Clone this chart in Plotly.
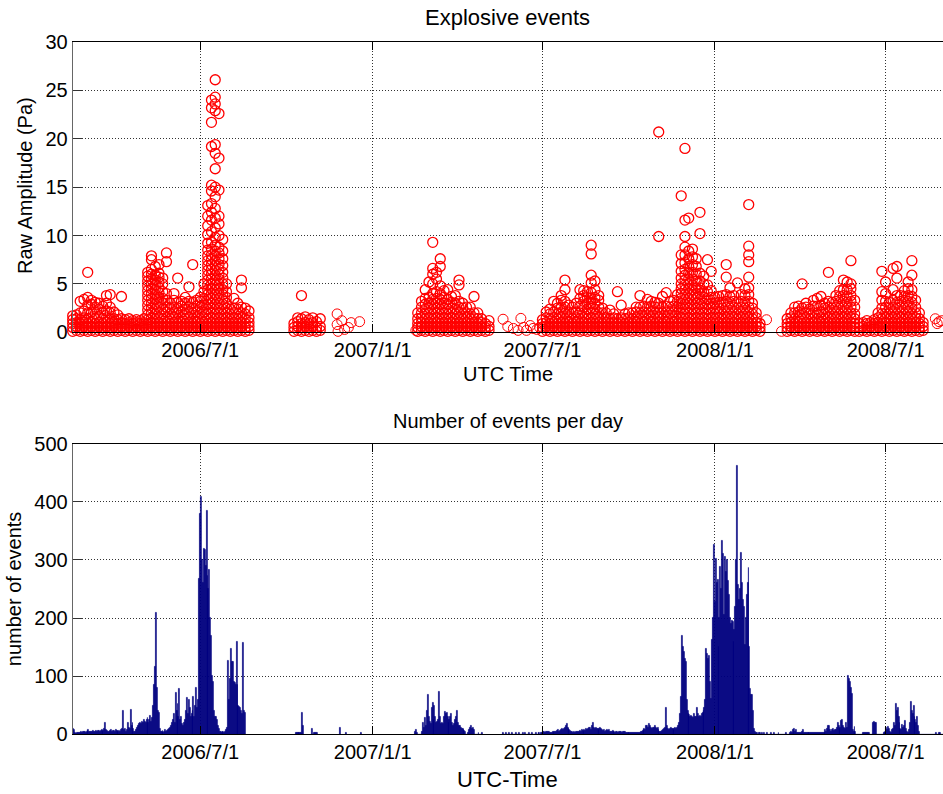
import pandas as pd
import plotly.graph_objects as go

# ---------------- data ----------------
TICK_DATES = ["2006-07-01", "2007-01-01", "2007-07-01", "2008-01-01", "2008-07-01"]
TICK_LABELS = ["2006/7/1", "2007/1/1", "2007/7/1", "2008/1/1", "2008/7/1"]

# Daily event counts (segments of consecutive days; days not listed have no events)
COUNT_SEGMENTS = [
    ("2006-02-15", [
        12, 10, 8, 2, 1, 2, 3, 2, 3, 4,
        3, 4, 5, 4, 3, 5, 6, 8, 5, 4,
        5, 4, 6, 5, 4, 6, 5, 7, 6, 5,
        6, 8, 5, 6, 10, 20, 8, 6, 5, 4,
        6, 8, 5, 7, 6, 5, 8, 6, 7, 5,
        6, 4, 8, 10, 40, 8, 10, 5, 8, 20,
        12, 10, 43, 15, 20, 10, 5, 4, 8, 12,
        15, 18, 20, 18, 22, 20, 25, 22, 20, 25,
        28, 20, 25, 32, 22, 28, 50, 85, 117, 209,
        80, 40, 38, 10, 5, 4, 6, 3, 5, 8,
        4, 6, 8, 10, 12, 15, 20, 25, 35, 20,
        72, 40, 53, 30, 79, 25, 30, 18, 15, 20,
        25, 40, 63, 35, 60, 45, 30, 35, 40, 65,
        30, 50, 81, 45, 60, 267, 380, 408, 300, 260,
        319, 318, 290, 385, 273, 250, 283, 200, 170, 100,
        90, 40, 30, 30, 25, 15, 10, 5, 4, 3,
        5, 4, 3, 5, 8, 12, 127, 60, 95, 147,
        125, 125, 90, 88, 85, 160, 85, 50, 47, 45,
        40, 35, 157, 40, 38]),
    ("2006-10-11", [3, 2, 3, 2, 3, 3, 2, 38, 15]),
    ("2006-10-28", [10, 0, 0, 3, 2, 3, 2]),
    ("2006-11-27", [12]),
    ("2006-12-04", [2]),
    ("2006-12-20", [2]),
    ("2007-02-15", [
        5, 8, 3, 0, 0, 0, 0, 0,
        5, 20, 12, 29, 15, 40, 69, 30, 22, 18,
        45, 55, 25, 50, 30, 20, 22, 25, 73, 30,
        18, 20, 18, 30, 39, 35, 38, 30, 20, 25,
        30, 35, 20, 15, 18, 25, 30, 41, 20, 15,
        15, 12, 10, 10, 8, 6, 5, 0, 0, 3,
        8, 12, 15, 10, 12, 8, 0, 0, 0, 0,
        3, 0, 0, 0, 2]),
    ("2007-05-20", [
        2, 0, 0, 2, 0, 0, 0, 2, 0, 0, 2, 0, 0, 0, 2, 0, 0, 2, 0, 0,
        0, 2, 0, 0, 2, 0, 0, 0, 2, 0, 0, 2, 0, 0, 0, 2, 0, 0, 2, 2]),
    ("2007-06-30", [
        2, 3, 5, 4, 3, 5, 5, 4, 5, 3,
        3, 3, 4, 3, 5, 5, 4, 6, 8, 5,
        6, 8, 10, 8, 10, 12, 15, 18, 12, 10,
        8, 6, 5, 4, 3, 4, 3, 5, 5, 4,
        5, 6, 4, 8, 6, 5, 8, 6, 10, 8,
        10, 12, 12, 8, 15, 20, 12, 10, 12, 10,
        10, 8, 10, 12, 10, 8, 6, 8, 5, 6,
        8, 6, 8, 5, 4, 5, 6, 5, 4, 3,
        5, 4, 3, 5, 5, 4, 3, 5, 5, 4,
        3, 3, 2, 3, 3, 2, 3, 3, 2, 3,
        3, 3, 2, 3, 3, 3, 5, 4, 6, 8,
        10, 8, 15, 14, 12, 18, 15, 12, 10, 12,
        12, 15, 12, 10, 12, 8, 5, 5, 5, 6,
        8, 10, 12, 46, 15, 10, 8, 10, 12, 10,
        10, 8, 10, 12, 10, 12, 15, 20, 36, 64,
        170, 150, 142, 130, 125, 60, 41, 35, 33, 30,
        32, 30, 28, 35, 30, 30, 46, 35, 30, 32,
        30, 35, 38, 40, 45, 60, 148, 138, 130, 135,
        90, 62, 162, 200, 327, 228, 303, 260, 266, 150,
        200, 288, 250, 333, 310, 205, 306, 280, 300, 265,
        240, 200, 190, 195, 193, 160, 180, 220, 300, 462,
        257, 232, 250, 313, 260, 232, 220, 155, 200, 240,
        260, 287, 150, 78, 68, 68, 40, 10, 5, 3,
        2, 0, 3, 2, 0, 3, 0, 0, 2, 0,
        0, 3, 0, 0, 0, 2, 0, 0, 3, 0,
        0, 0, 0, 2, 0, 0, 0, 0, 0, 0,
        0, 2, 0, 0, 0, 3, 5, 2, 8, 3,
        10, 4, 8, 3, 2, 3, 2, 3, 4, 8,
        3, 3, 3, 2, 3, 3, 3, 3, 2, 3,
        3, 3, 3, 3, 2, 3, 3, 3, 3, 3,
        3, 2, 3, 8, 5, 10, 14, 15, 8, 5,
        8, 10, 6, 8, 8, 12, 20, 15, 10, 12,
        24, 25, 15, 12, 10, 20, 12, 100, 95, 91,
        80, 70, 8, 5, 13, 5, 0, 0, 0, 0,
        0, 0, 0, 3, 3, 3, 2, 3, 3, 3,
        0, 0, 0, 0, 20, 21, 20, 20, 0, 0,
        0, 0, 0, 0, 0, 3, 5, 3, 12, 8,
        13, 10, 5, 3, 8, 10, 20, 15, 52, 40,
        45, 30, 20, 10, 8, 17, 12, 15, 23, 10,
        5, 3, 8, 20, 56, 40, 35, 50, 30, 25,
        20, 30, 15, 5, 0, 0, 0, 0, 0, 0,
        0, 0, 0, 0, 0, 0, 0, 0, 0, 0,
        0, 3, 0, 0, 3, 2, 0, 0, 0]),
]

# Event amplitudes (Pa), grouped in 4-day bins: (first day, bin length in days, amplitudes per bin)
AMPLITUDE_BINS = [
    ("2006-02-15", 4, [
        "0.1 0.5 0.9 1.3 1.7", "0.2 0.6 1.0 1.4 1.8", "0.1 0.5 0.9 1.3 2.0 3.2",
        "0.2 0.6 1.0 1.5 2.2 3.4", "0.1 0.5 0.9 1.4 2.0 2.8 3.6 6.2", "0.2 0.6 1.0 1.5 2.1 2.9 3.3",
        "0.1 0.5 0.9 1.4 1.9 2.6 3.1", "0.2 0.6 1.0 1.6 2.4 3.0", "0.1 0.5 0.9 1.4 2.0 2.7",
        "0.2 0.6 1.0 1.5 2.2 3.0 3.8", "0.1 0.5 0.9 1.4 2.0 2.6 3.9", "0.2 0.6 1.0 1.4 2.1",
        "0.1 0.5 0.9 1.3 1.8", "0.2 0.6 1.0 1.4 3.7", "0.1 0.5 0.9 1.3",
        "0.2 0.6 1.0 1.4", "0.1 0.5 0.9 1.2", "0.2 0.6 1.0 1.3",
        "0.1 0.5 0.9 1.2", "0.2 0.6 1.0 1.4",
        "0.1 0.5 0.9 1.3 1.8 2.3 2.8 3.3 3.8 4.3 4.8 5.3 5.8 6.2",
        "0.2 0.6 1.0 1.5 2.0 2.5 3.0 3.5 4.0 4.5 5.0 5.5 6.0 6.5 7.5 7.9",
        "0.1 0.5 0.9 1.4 1.9 2.4 2.9 3.4 3.9 4.4 4.9 5.4 5.9 6.8",
        "0.2 0.6 1.0 1.5 2.0 2.6 3.1 3.6 4.1 4.6 5.2 5.7 6.1 7.0",
        "0.1 0.5 0.9 1.4 1.9 2.4 3.0 3.5 4.2 5.0 5.6",
        "0.2 0.6 1.0 1.5 2.1 2.6 3.3 4.0 7.3 8.2",
        "0.1 0.5 0.9 1.4 1.9 2.5 3.0", "0.2 0.6 1.0 1.5 2.0 2.6 3.3 4.0",
        "0.1 0.5 0.9 1.4 2.0 2.5 3.1 5.6", "0.2 0.6 1.0 1.5 2.1 2.7 3.2",
        "0.1 0.5 0.9 1.4 1.9 2.4 3.0 3.6", "0.2 0.6 1.0 1.5 2.0 2.6 3.2 4.7",
        "0.1 0.5 0.9 1.4 2.0 2.5 3.1 7.0", "0.2 0.6 1.0 1.5 2.1 2.7 3.3",
        "0.1 0.5 0.9 1.4 2.0 2.6 3.2 3.6", "0.2 0.6 1.0 1.5 2.1 2.8 3.5 4.2 5.0",
        "0.1 0.5 0.9 1.4 1.9 2.4 2.9 3.4 3.9 4.4 4.9 5.4 5.9 6.4 6.9 7.4 7.9 8.5 9.2 10.1 11.0 12.0 13.1",
        "0.2 0.6 1.0 1.5 2.0 2.5 3.0 3.5 4.0 4.5 5.0 5.5 6.0 6.5 7.0 7.5 8.0 8.6 9.3 10.4 11.6 12.4 13.3 14.6 15.2 19.2 21.7 23.2 24.0",
        "0.1 0.5 0.9 1.4 1.9 2.4 2.9 3.4 3.9 4.4 4.9 5.4 5.9 6.4 6.9 7.4 7.9 8.4 9.0 9.8 10.8 11.8 12.8 14.0 15.0 16.9 18.5 19.4 22.9 23.6 24.3 26.1",
        "0.2 0.6 1.0 1.5 2.0 2.5 3.0 3.5 4.0 4.5 5.0 5.5 6.0 6.5 7.0 7.6 8.2 8.8 10.0 11.2 12.0 14.7 18.0 22.6",
        "0.1 0.5 0.9 1.4 1.9 2.4 2.9 3.4 3.9 4.4 5.0 5.6 6.2 6.9 7.6 8.4 9.6",
        "0.2 0.6 1.0 1.5 2.0 2.5 3.0 3.6 4.2 5.0",
        "0.1 0.5 0.9 1.4 1.9 2.4", "0.2 0.6 1.0 1.5 2.0 2.5 3.5",
        "0.1 0.5 0.9 1.4 1.9 2.4 3.0", "0.2 0.6 1.0 1.5 2.0 2.6 4.6 5.4",
        "0.1 0.5 0.9 1.4 1.9 2.5", "0.2 0.6 1.0 1.5 2.2"]),
    ("2006-10-09", 4, [
        "0.1 0.5 0.9", "0.2 0.6 1.1 1.5", "0.1 0.5 0.9 1.4 3.8", "0.2 0.6 1.0 1.6",
        "0.1 0.5 0.9 1.3", "0.2 0.6 1.0 1.5", "0.1 0.5 1.1", "0.2 0.6 1.4"]),
    ("2007-02-18", 4, [
        "0.1 0.5 0.9 1.4 2.0", "0.2 0.6 1.0 1.5 2.0 2.6 3.2",
        "0.1 0.5 0.9 1.4 1.9 2.4 2.9 3.5 4.4", "0.2 0.6 1.0 1.5 2.0 2.5 3.0 3.6 5.2",
        "0.1 0.5 0.9 1.4 1.9 2.4 2.9 3.4 4.0 5.0 6.0 6.6 9.3",
        "0.2 0.6 1.0 1.5 2.0 2.5 3.0 3.5 4.2 5.5 6.2",
        "0.1 0.5 0.9 1.4 1.9 2.4 2.9 3.4 4.0 4.8 6.8 7.6",
        "0.2 0.6 1.0 1.5 2.0 2.5 3.0 3.6 4.3", "0.1 0.5 0.9 1.4 1.9 2.4 2.9 3.4 4.4",
        "0.2 0.6 1.0 1.5 2.0 2.5 3.1 3.7", "0.1 0.5 0.9 1.4 1.9 2.4 3.0 3.8",
        "0.2 0.6 1.0 1.5 2.0 2.6 3.2 4.9 5.4", "0.1 0.5 0.9 1.4 1.9 2.5 3.0",
        "0.2 0.6 1.0 1.5 2.0 2.6", "0.1 0.5 0.9 1.4 1.9 2.6", "0.2 0.6 1.0 1.5 2.0 3.7",
        "0.1 0.5 0.9 1.4 2.0", "0.2 0.6 1.0 1.4", "0.1 0.5 0.9", "0.2 0.6 1.2"]),
    ("2007-07-01", 4, [
        "0.1 0.5 0.9 1.3", "0.2 0.6 1.0 1.5 2.1", "0.1 0.5 0.9 1.4 1.9 2.4",
        "0.2 0.6 1.0 1.5 2.1 3.2", "0.1 0.5 0.9 1.4 1.9 2.5 3.0", "0.2 0.6 1.0 1.5 2.0 2.6 3.3 3.8",
        "0.1 0.5 0.9 1.4 2.0 2.6 3.2 4.4 5.4", "0.2 0.6 1.0 1.5 2.1 2.8", "0.1 0.5 0.9 1.4 2.0 2.6",
        "0.2 0.6 1.0 1.5 2.1 3.0", "0.1 0.5 0.9 1.4 2.0 2.7 3.5 4.4",
        "0.2 0.6 1.0 1.5 2.0 2.6 3.2 3.8 4.3", "0.1 0.5 0.9 1.4 1.9 2.4 3.0 3.6 4.2",
        "0.2 0.6 1.0 1.5 2.0 2.5 3.0 3.5 4.1 5.1 5.9 8.1 9.0",
        "0.1 0.5 0.9 1.4 1.9 2.4 3.0 3.6 4.4 5.3", "0.2 0.6 1.0 1.5 2.0 2.6 3.3 3.8",
        "0.1 0.5 0.9 1.4 2.0 2.5", "0.2 0.6 1.0 1.5 2.0", "0.1 0.5 0.9 1.4 2.3",
        "0.2 0.6 1.0 1.5 1.9", "0.1 0.5 0.9 1.4 4.2", "0.2 0.6 1.0 1.5 2.8",
        "0.1 0.5 0.9 1.4 1.9", "0.2 0.6 1.0 1.5 2.0", "0.1 0.5 0.9 1.4 2.0",
        "0.2 0.6 1.0 1.5 2.1 2.6", "0.1 0.5 0.9 1.4 2.0 2.6 3.8", "0.2 0.6 1.0 1.5 2.1 2.7",
        "0.1 0.5 0.9 1.4 2.0 2.6 3.4", "0.2 0.6 1.0 1.5 2.1 2.7 3.2", "0.1 0.5 0.9 1.4 2.0 2.6 3.1",
        "0.2 0.6 1.0 1.5 2.0 2.6 3.0 9.9 20.7", "0.1 0.5 0.9 1.4 2.0 2.6 3.7",
        "0.2 0.6 1.0 1.5 2.1 2.7 4.1", "0.1 0.5 0.9 1.4 2.0 2.6 3.2", "0.2 0.6 1.0 1.5 2.1 2.7 3.3",
        "0.1 0.5 0.9 1.4 2.0 2.6 3.2 3.9",
        "0.2 0.6 1.0 1.5 2.0 2.5 3.0 3.5 4.0 4.5 5.0 5.6 6.3 7.1 8.0 14.1",
        "0.1 0.5 0.9 1.4 1.9 2.4 2.9 3.4 3.9 4.4 4.9 5.4 5.9 6.5 7.2 8.0 8.8 9.9 11.6 19.0",
        "0.2 0.6 1.0 1.5 2.0 2.5 3.0 3.5 4.0 4.5 5.0 5.5 6.1 6.8 7.6 8.4 11.8",
        "0.1 0.5 0.9 1.4 1.9 2.4 2.9 3.4 3.9 4.4 4.9 5.5 6.2 7.0 7.8 8.6",
        "0.2 0.6 1.0 1.5 2.0 2.5 3.0 3.5 4.0 4.6 5.3 6.0 6.8 7.6",
        "0.1 0.5 0.9 1.4 1.9 2.4 2.9 3.4 4.0 4.6 5.3 6.1 10.2 12.4",
        "0.2 0.6 1.0 1.5 2.0 2.5 3.0 3.6 4.2 5.0 5.8",
        "0.1 0.5 0.9 1.4 1.9 2.4 2.9 3.5 4.2 4.9 7.5",
        "0.2 0.6 1.0 1.5 2.0 2.5 3.0 3.6 4.3 6.3",
        "0.1 0.5 0.9 1.4 1.9 2.4 3.0 3.6", "0.2 0.6 1.0 1.5 2.0 2.5 3.1 3.7",
        "0.1 0.5 0.9 1.4 1.9 2.5 3.1 3.8", "0.2 0.6 1.0 1.5 2.0 2.6 3.2 3.9 5.7 7.0",
        "0.1 0.5 0.9 1.4 1.9 2.5 3.1 3.7 4.6", "0.2 0.6 1.0 1.5 2.0 2.6 3.2 3.8",
        "0.1 0.5 0.9 1.4 1.9 2.5 3.1 5.1", "0.2 0.6 1.0 1.5 2.0 2.6 3.2 3.9",
        "0.1 0.5 0.9 1.4 1.9 2.5 3.1 3.8 4.5",
        "0.2 0.6 1.0 1.5 2.0 2.6 3.2 3.9 4.6 5.7 7.3 8.0 8.9 13.2",
        "0.1 0.5 0.9 1.4 1.9 2.5 3.0", "0.2 0.6 1.0 1.5 2.0", "0.1 0.5 0.9"]),
    ("2008-03-18", 4, [
        "0.1 0.5 0.9 1.4", "0.2 0.6 1.0 1.5 2.0", "0.1 0.5 0.9 1.4 2.0 2.6",
        "0.2 0.6 1.0 1.5 2.1 2.7", "0.1 0.5 0.9 1.4 1.9 2.5 5.0", "0.2 0.6 1.0 1.5 2.0 2.6 3.0",
        "0.1 0.5 0.9 1.4 1.9 2.4", "0.2 0.6 1.0 1.5 2.0 2.7 3.3", "0.1 0.5 0.9 1.4 2.0 2.7 3.5",
        "0.2 0.6 1.0 1.5 2.1 2.8 3.7", "0.1 0.5 0.9 1.4 1.9 2.5 3.0",
        "0.2 0.6 1.0 1.5 2.0 2.6 3.2 6.2", "0.1 0.5 0.9 1.4 1.9 2.5 3.1",
        "0.2 0.6 1.0 1.5 2.0 2.6 3.2 3.8", "0.1 0.5 0.9 1.4 1.9 2.5 3.1 3.7 4.3",
        "0.2 0.6 1.0 1.5 2.0 2.6 3.2 3.8 4.4 5.4", "0.1 0.5 0.9 1.4 1.9 2.5 3.1 3.7 4.4 5.2",
        "0.2 0.6 1.0 1.5 2.0 2.6 3.2 3.8 4.5 5.0 7.4", "0.1 0.5 0.9 1.4 1.9 2.6 3.3"]),
    ("2008-06-03", 4, [
        "0.1 0.5 0.9", "0.2 0.6 1.0", "0.1 0.5 0.9 1.2", "0.2 0.6 1.0", "0.1 0.5 0.9 1.3",
        "0.2 0.6 1.0 1.5 2.0", "0.1 0.5 0.9 1.4 1.9 2.5 3.3 4.2 6.3",
        "0.2 0.6 1.0 1.5 2.0 2.6 3.2 4.0 5.2", "0.1 0.5 0.9 1.4 1.9 2.5 3.1",
        "0.2 0.6 1.0 1.5 2.0 2.6 3.3 4.4 6.6", "0.1 0.5 0.9 1.4 1.9 2.5 3.1 3.8 5.6 6.8",
        "0.2 0.6 1.0 1.5 2.0 2.6 3.2 3.8", "0.1 0.5 0.9 1.4 1.9 2.5 3.1 3.7 4.3",
        "0.2 0.6 1.0 1.5 2.0 2.6 3.2 3.8 4.5 5.2",
        "0.1 0.5 0.9 1.4 1.9 2.5 3.1 3.7 4.4 5.9 7.4",
        "0.2 0.6 1.0 1.5 2.0 2.6 3.3", "0.1 0.5 0.9 1.4 2.0", "0.2 0.6 1.0"]),
]

# Isolated events (date, amplitude in Pa)
SINGLE_EVENTS = [
    ("2006-11-24", 1.9), ("2006-11-24", 0.8), ("2006-11-25", 0.1), ("2006-11-29", 1.2),
    ("2006-12-02", 0.3), ("2006-12-06", 0.5), ("2006-12-09", 1.0), ("2006-12-18", 1.1),
    ("2007-02-16", 0.2),
    ("2007-05-20", 1.35), ("2007-05-25", 0.6), ("2007-05-31", 0.4), ("2007-06-05", 0.2),
    ("2007-06-08", 1.44), ("2007-06-11", 0.5), ("2007-06-14", 0.2), ("2007-06-18", 0.7),
    ("2007-06-21", 0.4), ("2007-06-25", 0.3), ("2007-06-28", 0.5),
    ("2008-02-25", 1.3), ("2008-03-12", 0.1),
    ("2008-08-23", 1.4), ("2008-08-25", 0.9), ("2008-08-27", 1.1), ("2008-08-30", 1.2),
]

X_RANGE = ["2006-02-15", "2008-08-31 05:00"]

# ---------------- build series ----------------
count_dates, count_values = [], []
for start, vals in COUNT_SEGMENTS:
    days = pd.date_range(start, periods=len(vals), freq="D")
    count_dates.extend(days)
    count_values.extend(vals)

ev_dates, ev_amps = [], []
for start, step, bins in AMPLITUDE_BINS:
    t0 = pd.Timestamp(start)
    for k, s in enumerate(bins):
        d = t0 + pd.Timedelta(days=k * step)
        for v in s.split():
            ev_dates.append(d)
            ev_amps.append(float(v))
single_dates = [pd.Timestamp(d) for d, a in SINGLE_EVENTS]
single_amps = [a for d, a in SINGLE_EVENTS]

# ---------------- figure ----------------
W, H = 943, 794
FONT = "Liberation Sans, Arial, Helvetica, sans-serif"

fig = go.Figure()
fig.add_trace(go.Scatter(
    x=ev_dates, y=ev_amps, mode="markers", xaxis="x", yaxis="y",
    marker=dict(symbol="circle-open", size=10, color="#ff0000", line=dict(width=1.3, color="#ff0000")),
    cliponaxis=False, showlegend=False, hoverinfo="skip"))
fig.add_trace(go.Scatter(
    x=single_dates, y=single_amps, mode="markers", xaxis="x", yaxis="y",
    marker=dict(symbol="circle-open", size=10, color="#ff0000", line=dict(width=1, color="#ff0000")),
    cliponaxis=False, showlegend=False, hoverinfo="skip"))
fig.add_trace(go.Bar(
    x=count_dates, y=count_values, xaxis="x2", yaxis="y2",
    marker=dict(color="#000080", line=dict(width=0.6, color="#000080")),
    width=86400000, showlegend=False, hoverinfo="skip"))

x_dom = [72.7 / W, 1.0]
top_dom = [(H - 332.3) / H, (H - 42) / H]
bot_dom = [(H - 734.3) / H, (H - 443.7) / H]

common_x = dict(
    type="date", range=X_RANGE, tickmode="array", tickvals=TICK_DATES, ticktext=TICK_LABELS,
    showgrid=True, gridcolor="#333333", griddash="1px,2px", gridwidth=1,
    showline=True, linecolor="#000000", linewidth=1, mirror="ticks",
    ticks="inside", ticklen=8, tickcolor="#000000", tickwidth=1,
    tickfont=dict(family=FONT, size=20, color="#000000"), zeroline=False,
    domain=x_dom, automargin=False, fixedrange=True)
common_y = dict(
    showgrid=True, gridcolor="#333333", griddash="1px,2px", gridwidth=1,
    showline=True, linecolor="#666666", linewidth=1, mirror=False,
    ticks="inside", ticklen=9, tickcolor="#333333", tickwidth=1,
    tickfont=dict(family=FONT, size=20, color="#000000"), zeroline=False,
    automargin=False, fixedrange=True)

fig.update_layout(
    width=W, height=H, margin=dict(l=0, r=0, t=0, b=0),
    paper_bgcolor="white", plot_bgcolor="white", bargap=0,
    font=dict(family=FONT, color="#000000"),
    xaxis=dict(common_x, anchor="y"),
    yaxis=dict(common_y, anchor="x", domain=top_dom, range=[0, 30], tickmode="array",
               tickvals=[0, 5, 10, 15, 20, 25, 30]),
    xaxis2=dict(common_x, anchor="y2"),
    yaxis2=dict(common_y, anchor="x2", domain=bot_dom, range=[0, 500], tickmode="array",
                tickvals=[0, 100, 200, 300, 400, 500]),
)

cx = (72.7 + W) / 2 / W
anns = [
    dict(text="Explosive events", x=cx, y=(H - 17.5) / H, size=22, angle=0),
    dict(text="UTC Time", x=cx, y=(H - 374) / H, size=20, angle=0),
    dict(text="Raw Amplitude (Pa)", x=25 / W, y=(H - 186) / H, size=20, angle=-90),
    dict(text="Number of events per day", x=cx, y=(H - 421.3) / H, size=20, angle=0),
    dict(text="UTC-Time", x=cx, y=(H - 779) / H, size=22, angle=0),
    dict(text="number of events", x=14.2 / W, y=(H - 589) / H, size=20, angle=-90),
]
for a in anns:
    fig.add_annotation(text=a["text"], x=a["x"], y=a["y"], xref="paper", yref="paper",
                       xanchor="center", yanchor="middle", showarrow=False, textangle=a["angle"],
                       font=dict(family=FONT, size=a["size"], color="#000000"))

fig.write_html("out.html")
